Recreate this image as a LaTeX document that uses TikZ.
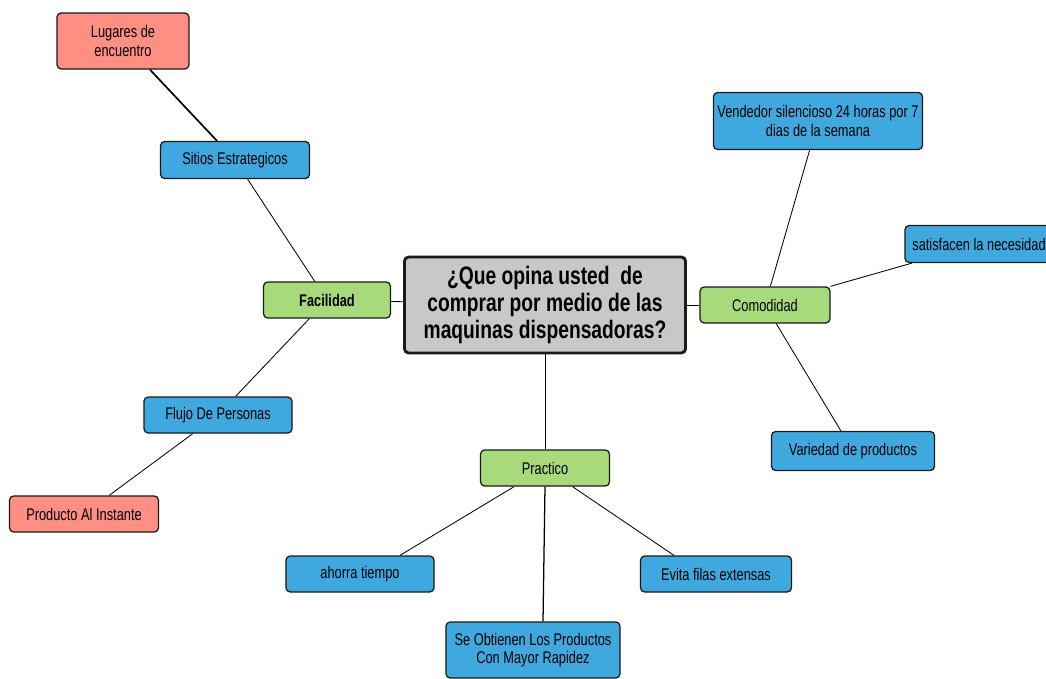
\documentclass[tikz,border=0pt]{standalone}
\usepackage{fontspec}
\setmainfont{Liberation Sans}[FakeStretch=0.76]
\usepackage{xcolor}
\usepackage{tikz}
\usetikzlibrary{positioning}
\definecolor{mmblue}{HTML}{3EA8DF}
\definecolor{mmgreen}{HTML}{A6DA7B}
\definecolor{mmred}{HTML}{FF8F82}
\definecolor{mmgray}{HTML}{C8C8C8}
\definecolor{mmedge}{HTML}{1A1A1A}

\begin{document}
\begin{tikzpicture}[
 x=0.025cm,y=-0.025cm,
 bx/.style={draw=mmedge,line width=0.9pt,rounded corners=3pt,align=center,inner sep=2pt,
   font=\fontsize{12}{13}\selectfont,minimum height=0.9cm},
 cb/.style={bx,fill=mmgray,line width=2pt,minimum width=7.025cm,minimum height=2.4cm,
   font=\fontsize{18}{19.5}\selectfont\bfseries},
 gb/.style={bx,fill=mmgreen},
 bb/.style={bx,fill=mmblue},
 rb/.style={bx,fill=mmred},
 ln/.style={draw=black,line width=0.6pt}
]
\useasboundingbox (0,0) rectangle (1046,678);
% centre
\node[cb] (q) at (545,305) {¿Que opina usted\ \ de\\comprar por medio de las\\maquinas dispensadoras?};
% left branch
\node[gb,minimum width=3.175cm,font=\fontsize{12}{13}\selectfont\bfseries] (fac) at (327,300) {Facilidad};
\node[bb,minimum width=3.725cm,minimum height=0.925cm] (sit) at (235,160) {Sitios Estrategicos};
\node[rb,minimum width=3.3cm,minimum height=1.4cm] (lug) at (123,41) {Lugares de\\encuentro};
\node[bb,minimum width=3.7cm] (flu) at (218,415) {Flujo De Personas};
\node[rb,minimum width=3.725cm] (pai) at (84,514) {Producto Al Instante};
% right branch
\node[gb,minimum width=3.25cm] (com) at (765,305) {Comodidad};
\node[bb,minimum width=5.225cm,minimum height=1.425cm] (ven) at (818,121) {Vendedor silencioso 24 horas por 7\\dias de la semana};
\node[bb,minimum width=3.7cm,minimum height=0.925cm] (sat) at (979,244) {satisfacen la necesidad};
\node[bb,minimum width=4.075cm,minimum height=0.975cm] (var) at (853,451) {Variedad de productos};
% bottom branch
\node[gb,minimum width=3.225cm] (pra) at (545,468) {Practico};
\node[bb,minimum width=3.7cm] (aho) at (360,574) {ahorra tiempo};
\node[bb,minimum width=3.775cm] (evi) at (716,574) {Evita filas extensas};
\node[bb,minimum width=4.35cm,minimum height=1.4cm] (obt) at (533,650) {Se Obtienen Los Productos\\Con Mayor Rapidez};
% links
\draw[ln] (q) -- (fac);
\draw[ln] (fac) -- (sit);
\draw[ln,line width=1.2pt] (sit) -- (lug);
\draw[ln] (fac) -- (flu);
\draw[ln] (flu) -- (pai);
\draw[ln] (q) -- (com);
\draw[ln] (com) -- (ven);
\draw[ln] (com) -- (sat);
\draw[ln] (com) -- (var);
\draw[ln] (q) -- (pra);
\draw[ln] (pra) -- ([xshift=1cm]aho.north);
\draw[ln,line width=0.9pt] (pra.south) -- ([xshift=0.25cm]obt.north);
\draw[ln] (pra) -- ([xshift=-1.05cm]evi.north);
\end{tikzpicture}
\end{document}
